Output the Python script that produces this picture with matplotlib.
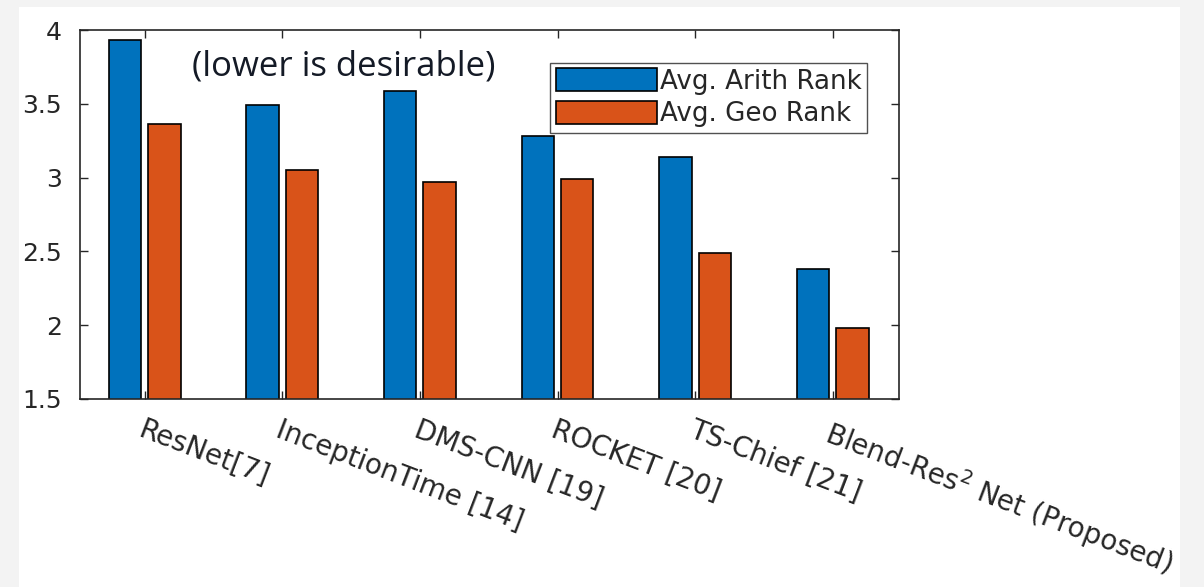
import matplotlib
matplotlib.use("Agg")
import matplotlib.pyplot as plt
from matplotlib.patches import Rectangle
import numpy as np

categories = ["ResNet[7]", "InceptionTime [14]", "DMS-CNN [19]", "ROCKET [20]",
              "TS-Chief [21]", "Blend-Res$^2$ Net (Proposed)"]
arith_rank = [3.93, 3.49, 3.59, 3.28, 3.14, 2.38]
geo_rank = [3.36, 3.05, 2.97, 2.99, 2.49, 1.98]
series_names = ["Avg. Arith Rank", "Avg. Geo Rank"]
yticks = [1.5, 2, 2.5, 3, 3.5, 4]
ytick_labels = ["1.5", "2", "2.5", "3", "3.5", "4"]

blue = "#0072BD"
orange = "#D95319"
ink = "#262626"

plt.rcParams["font.family"] = ["DejaVu Sans"]
plt.rcParams["mathtext.fontset"] = "dejavusans"

fig = plt.figure(figsize=(12.04, 5.87), dpi=100)
fig.patch.set_facecolor("#f3f3f3")
fig.patches.append(Rectangle((19 / 1204, 0), (1180 - 19) / 1204, (587 - 7) / 587,
                             transform=fig.transFigure, facecolor="white",
                             edgecolor="none", zorder=-10))

ax = fig.add_axes([80 / 1204, 1 - 399 / 587, (899 - 80) / 1204, (399 - 30) / 587])
x = np.arange(1, len(categories) + 1)
w = 0.235
off = 0.143
ax.bar(x - off, arith_rank, width=w, color=blue, edgecolor="black",
       linewidth=1.2, label=series_names[0])
ax.bar(x + off, geo_rank, width=w, color=orange, edgecolor="black",
       linewidth=1.2, label=series_names[1])

ax.set_xlim(0.53, 6.48)
ax.set_ylim(1.5, 4)
ax.set_yticks(yticks)
ax.set_yticklabels(ytick_labels)
ax.set_xticks(x)
ax.set_xticklabels(categories, rotation=-21, ha="left", va="top",
                   rotation_mode="anchor")
ax.tick_params(axis="both", direction="in", length=6, width=1.0, color=ink,
               labelcolor=ink, labelsize=18, top=True, right=True)
ax.tick_params(axis="x", pad=12)
ax.tick_params(axis="y", pad=13)
for lbl in ax.get_xticklabels():
    lbl.set_fontsize(20)
for s in ax.spines.values():
    s.set_color(ink)
    s.set_linewidth(1.2)

ax.text(0.137, 0.9, "(lower is desirable)", transform=ax.transAxes,
        fontsize=25, color="#141a26", family="Open Sans", va="center", ha="left")

leg = ax.legend(loc="upper right", bbox_to_anchor=(0.961, 0.91), fontsize=18.8,
                frameon=True, fancybox=False, edgecolor=ink, borderpad=0.2,
                handlelength=3.9, handleheight=0.95, handletextpad=0.1,
                labelspacing=0.25, borderaxespad=0)
leg.get_frame().set_linewidth(1.0)
for t in leg.get_texts():
    t.set_color(ink)

fig.savefig("out.png", dpi=100, facecolor=fig.get_facecolor())
